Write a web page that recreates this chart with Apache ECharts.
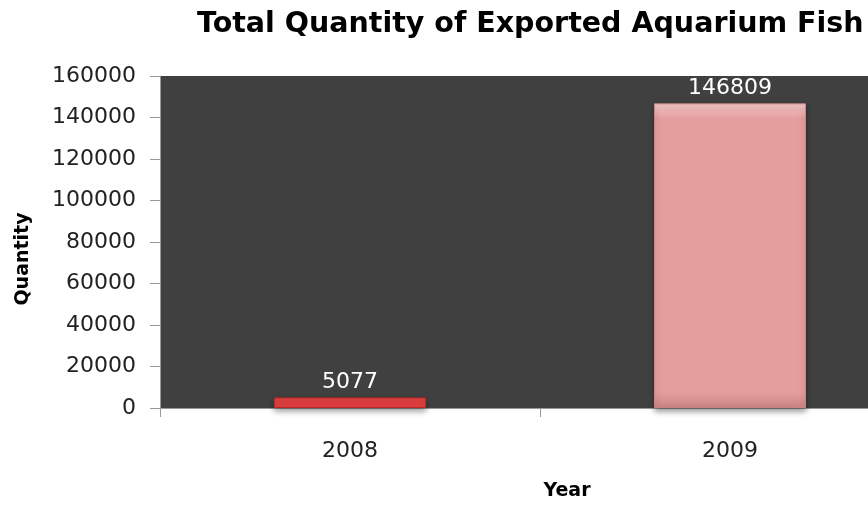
<!DOCTYPE html>
<html>
<head>
<meta charset="utf-8">
<title>Aquarium Fish</title>
<script src="https://cdn.jsdelivr.net/npm/echarts@6/dist/echarts.min.js"></script>
<style>html,body{margin:0;padding:0;background:#fff;overflow:hidden}</style>
</head>
<body>
<!-- chart is wider than the window: right side of the plot is cut off like in the original -->
<div id="main" style="width:920px;height:506px"></div>
<script>
var years = ['2008', '2009'];
var quantities = [5077, 146809];

var barColors = [
  ['#f57a7a', '#e2403f', '#b8282a'],
  ['#f6cccc', '#e59e9e', '#c98484']
];

var chart = echarts.init(document.getElementById('main'));
var fontFam = '"DejaVu Sans", "Open Sans", sans-serif';

chart.setOption({
  animation: false,
  title: {
    text: 'Total Quantity of Exported Aquarium Fish',
    left: 192,
    top: 5,
    textStyle: { fontFamily: fontFam, fontSize: 28.5, fontWeight: 'bold', color: '#000' }
  },
  grid: {
    left: 160, right: 0, top: 76, bottom: 97,
    show: true, backgroundColor: '#404040', borderWidth: 0
  },
  xAxis: {
    type: 'category',
    data: years,
    name: 'Year',
    nameLocation: 'middle',
    nameGap: 74,
    nameTextStyle: { fontFamily: fontFam, fontSize: 19, fontWeight: 'bold', color: '#000', padding: [0, 0, 0, 54] },
    axisLine: { lineStyle: { color: '#999' } },
    axisTick: { show: true, length: 9, lineStyle: { color: '#999' } },
    axisLabel: { fontFamily: fontFam, fontSize: 22, color: '#222', margin: 32 }
  },
  yAxis: {
    type: 'value',
    min: 0, max: 160000, interval: 20000,
    name: 'Quantity',
    nameLocation: 'middle',
    nameGap: 127,
    nameTextStyle: { fontFamily: fontFam, fontSize: 19, fontWeight: 'bold', color: '#000', padding: [0, 34, 0, 0] },
    axisLine: { show: true, lineStyle: { color: '#999' } },
    axisTick: { show: true, length: 10, lineStyle: { color: '#999' } },
    splitLine: { show: false },
    axisLabel: {
      fontFamily: fontFam, fontSize: 22, color: '#222', margin: 24,
      formatter: function (v) { return String(v); }
    }
  },
  series: [{
    type: 'bar',
    barWidth: '40%',
    data: quantities.map(function (v, i) {
      var c = barColors[i];
      return {
        value: v,
        itemStyle: {
          color: new echarts.graphic.LinearGradient(0, 0, 0, 1, [
            { offset: 0, color: c[0] },
            { offset: 0.05, color: c[1] },
            { offset: 0.95, color: c[1] },
            { offset: 1, color: c[2] }
          ]),
          borderColor: c[2],
          borderWidth: 1,
          shadowColor: 'rgba(0,0,0,0.4)',
          shadowBlur: 6,
          shadowOffsetY: 3
        }
      };
    }),
    label: {
      show: true,
      position: 'top',
      distance: 4,
      fontFamily: fontFam,
      fontSize: 22,
      color: '#fff'
    }
  }]
});
</script>
</body>
</html>
